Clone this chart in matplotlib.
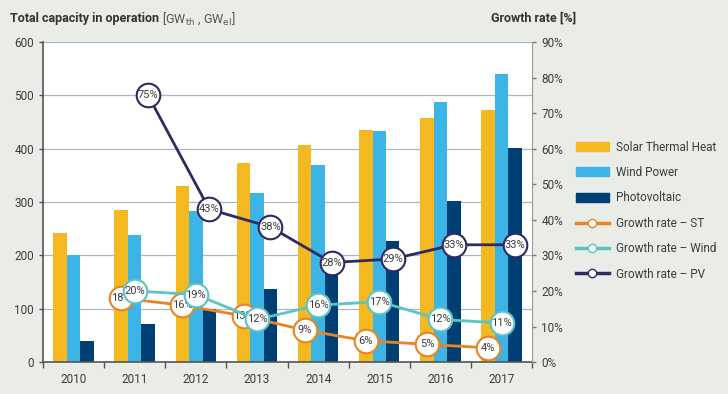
import numpy as np
import matplotlib.pyplot as plt
from matplotlib.lines import Line2D
from matplotlib.patches import Patch

plt.rcParams['font.family'] = ['Roboto', 'DejaVu Sans']

# data
years = ["2010", "2011", "2012", "2013", "2014", "2015", "2016", "2017"]
solar_thermal = [242, 285, 330, 373, 408, 435, 457, 472]
wind_power = [200, 238, 284, 318, 370, 433, 487, 541]
photovoltaic = [40, 71, 100, 138, 178, 228, 303, 402]

growth_years = ["2011", "2012", "2013", "2014", "2015", "2016", "2017"]
growth_st = [18, 16, 13, 9, 6, 5, 4]
growth_wind = [20, 19, 12, 16, 17, 12, 11]
growth_pv = [75, 43, 38, 28, 29, 33, 33]

# colours
c_st = "#f4b920"
c_wind = "#3cb4e5"
c_pv = "#003f73"
c_g_st = "#ea8423"
c_g_wind = "#5cc3c6"
c_g_pv = "#2f2a60"
bg = "#e9ece7"
txt = "#3c3c3c"

fig = plt.figure(figsize=(7.28, 3.94), dpi=100, facecolor=bg)
ax = fig.add_axes([0.059, 0.081, 0.672, 0.812])
ax.set_facecolor("white")

x = np.arange(len(years))
w = 0.22
ax.bar(x - w, solar_thermal, w, color=c_st, zorder=2)
ax.bar(x, wind_power, w, color=c_wind, zorder=2)
ax.bar(x + w, photovoltaic, w, color=c_pv, zorder=2)

ax.set_xlim(-0.5, len(years) - 0.5)
ax.set_ylim(0, 600)
ax.set_yticks(range(0, 601, 100))
ax.grid(axis="y", color="#a9b6c6", linewidth=0.9)
ax.set_axisbelow(True)
ax.set_xticks(x)
ax.set_xticklabels(years)
ax.set_xticks(np.arange(len(years) + 1) - 0.5, minor=True)
ax.tick_params(axis="x", which="major", length=0, pad=8, labelsize=8.5, colors=txt)
ax.tick_params(axis="x", which="minor", length=4, width=1, color="#555555")
ax.tick_params(axis="y", length=3, width=1, color="#555555", labelsize=8.5, labelcolor=txt)
for s in ["top", "right"]:
    ax.spines[s].set_visible(False)
for s in ["left", "bottom"]:
    ax.spines[s].set_color("#555555")
    ax.spines[s].set_linewidth(1.2)

# growth rate lines on second axis
ax2 = ax.twinx()
ax2.set_ylim(0, 90)
ax2.set_yticks(range(0, 91, 10))
ax2.set_yticklabels([f"{v}%" for v in range(0, 91, 10)])
ax2.tick_params(axis="y", length=3, width=1, color="#777777", labelsize=8.5, labelcolor=txt)
for s in ["top", "left", "bottom"]:
    ax2.spines[s].set_visible(False)
ax2.spines["right"].set_color("#999999")

gx = np.array([years.index(y) for y in growth_years])
series = [
    (growth_st, -w, c_g_st, 3),
    (growth_wind, 0, c_g_wind, 4),
    (growth_pv, w, c_g_pv, 5),
]
for vals, off, col, z in series:
    ax2.plot(gx + off, vals, color=col, linewidth=2, marker="o", markersize=17,
             markerfacecolor="white", markeredgecolor=col, markeredgewidth=1.5, zorder=z)
    for xi, v in zip(gx + off, vals):
        ax2.text(xi, v, f"{v}%", ha="center", va="center", fontsize=8,
                 color=txt, zorder=z + 0.5)

# titles
t1 = fig.text(0.014, 0.953, "Total capacity in operation", fontsize=9, fontweight="bold",
              color="#333333", va="center")
fig.text(0.791, 0.953, "Growth rate [%]", fontsize=9, fontweight="bold",
         color="#333333", va="center", ha="right")
ax.annotate(r" [GW$_{\mathrm{th}}$ , GW$_{\mathrm{el}}$]", xy=(1, 0.5), xycoords=t1,
            va="center", fontsize=9, color="#555555", annotation_clip=False)

# legend
handles = [
    Patch(color=c_st, label="Solar Thermal Heat"),
    Patch(color=c_wind, label="Wind Power"),
    Patch(color=c_pv, label="Photovoltaic"),
    Line2D([], [], color=c_g_st, lw=2.5, marker="o", markersize=6,
           markerfacecolor="white", markeredgecolor=c_g_st, label="Growth rate – ST"),
    Line2D([], [], color=c_g_wind, lw=2.5, marker="o", markersize=6,
           markerfacecolor="white", markeredgecolor=c_g_wind, label="Growth rate – Wind"),
    Line2D([], [], color=c_g_pv, lw=2.5, marker="o", markersize=6,
           markerfacecolor="white", markeredgecolor=c_g_pv, label="Growth rate – PV"),
]
leg = fig.legend(handles=handles, loc="upper left", bbox_to_anchor=(0.776, 0.67),
                 frameon=False, fontsize=8.5, handlelength=2.8, handleheight=0.8,
                 handletextpad=0.6, labelspacing=1.05)
for t in leg.get_texts():
    t.set_color(txt)

fig.savefig("out.png", dpi=100, facecolor=bg)
